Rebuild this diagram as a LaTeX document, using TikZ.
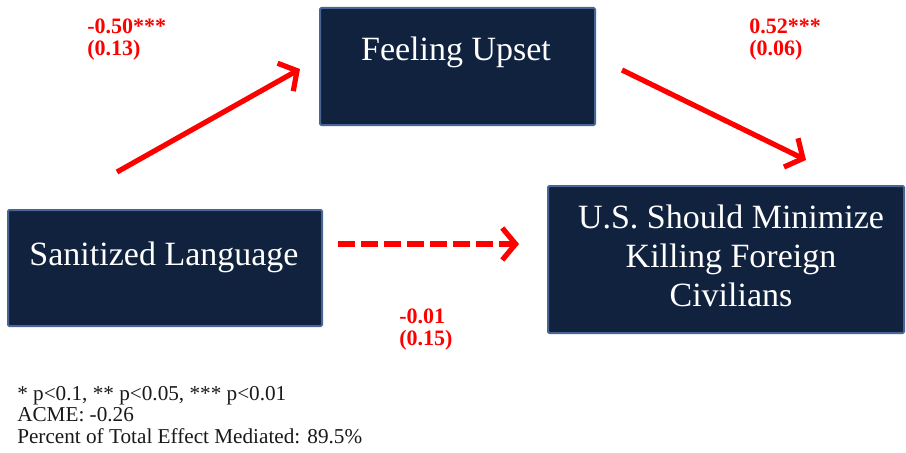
\documentclass[tikz,border=0pt]{standalone}
\usepackage{xcolor}
\usepackage{fontspec}
\setmainfont{Liberation Serif}
\usetikzlibrary{arrows.meta}
\definecolor{boxnavy}{RGB}{16,34,62}
\definecolor{boxedge}{RGB}{72,102,148}
\definecolor{pathred}{RGB}{255,0,0}

\begin{document}
\begin{tikzpicture}[x=0.75pt,y=0.75pt,yscale=-1,xscale=1,
	varbox/.style={draw=boxedge, line width=1.5pt, fill=boxnavy, inner sep=0pt, rounded corners=1pt},
	vartext/.style={text=white, font=\fontsize{25.5}{29.25}\selectfont, align=center, inner sep=0pt},
	coef/.style={text=pathred, font=\bfseries\fontsize{16.5}{16.5}\selectfont, anchor=north west, align=left, inner sep=0pt},
	effect/.style={draw=pathred, line width=3.9pt, -{Straight Barb[length=10pt,width=24pt]}}]
	\useasboundingbox (0,0) rectangle (906,453);
	
	%Shape: Rectangle [Sanitized Language]
	\node (san) [varbox, minimum width=235.5pt, minimum height=87pt] at (165,268) {};
	%Shape: Rectangle [Feeling Upset]
	\node (upset) [varbox, minimum width=206.25pt, minimum height=87.75pt] at (457.5,66.5) {};
	%Shape: Rectangle [U.S. Should Minimize]
	\node (civ) [varbox, minimum width=267pt, minimum height=110.25pt] at (726,259.5) {};
	
	% Text Node
	\node (santxt) [vartext] at (164,257) {Sanitized Language};
	% Text Node
	\node (upsettxt) [vartext] at (456,52) {Feeling Upset};
	% Text Node
	\node (civtxt) [vartext] at (731,256) {U.S. Should Minimize\\Killing Foreign\\Civilians};
	
	%Straight Lines [a path]
	\coordinate (astart) at (117,172);
	\coordinate (aend) at (300,69);
	\draw [effect] (astart) -- (aend);
	%Straight Lines [b path]
	\coordinate (bstart) at (622,70);
	\coordinate (bend) at (806,160);
	\draw [effect] (bstart) -- (bend);
	%Straight Lines [direct path]
	\coordinate (cstart) at (338,244);
	\coordinate (cend) at (519,244);
	\draw [effect, dash pattern=on 12.75pt off 4.5pt] (cstart) -- (cend);
	
	% Text Node
	\node (acoef) [coef] at (87,19) {-0.50***\\(0.13)};
	% Text Node
	\node (bcoef) [coef] at (749,19) {0.52***\\(0.06)};
	% Text Node
	\node (ccoef) [coef] at (399,309) {-0.01\\(0.15)};
	
	% Text Node
	\node (notes) [anchor=north west, align=left, inner sep=0pt, font=\fontsize{15.9}{16.1}\selectfont, text=black!90] at (17,386) {* p<0.1, ** p<0.05, *** p<0.01\\ACME: -0.26\\Percent of Total Effect Mediated: 89.5\%};
	
\end{tikzpicture}
\end{document}
